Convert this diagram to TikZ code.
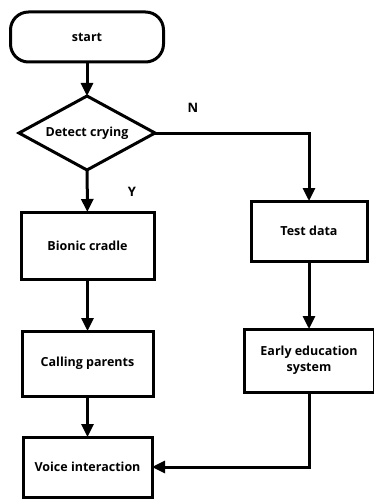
\documentclass[tikz,border=0pt]{standalone}
\usepackage{fontspec}
\setmainfont{Open Sans}
\usetikzlibrary{shapes.geometric,arrows.meta}

\begin{document}
\begin{tikzpicture}[
  x=1pt, y=-1pt,
  every node/.style={font=\fontsize{12.5}{16}\selectfont\bfseries},
  term/.style={
    draw, line width=3pt, rounded corners=18pt,
    inner sep=0pt, outer sep=0pt, minimum width=153pt, minimum height=50pt
  },
  decision/.style={
    draw, line width=3pt, diamond, aspect=1.84,
    inner sep=0pt, outer sep=0pt, minimum width=136pt, minimum height=74pt
  },
  box/.style={
    draw, line width=3pt, align=center,
    inner sep=0pt, outer sep=0pt
  },
  arr/.style={-{Triangle[length=13pt,width=12pt]}, line width=3pt},
  lbl/.style={font=\fontsize{13}{15}\selectfont\bfseries},
]
\useasboundingbox (0,0) rectangle (374,500);

%% Left column
\node[term] (start)    at (87,37)      {start};
\node[decision] (detect) at (87,133)   {Detect crying};
\node[box, minimum width=133pt, minimum height=67pt] (cradle)  at (87.5,245.5) {Bionic cradle};
\node[box, minimum width=131pt, minimum height=65pt] (calling) at (87.5,363.5) {Calling parents};
\node[box, minimum width=129pt, minimum height=60pt] (voice)   at (87.5,467)   {Voice interaction};

%% Right column
\node[box, minimum width=116pt, minimum height=60pt] (test)  at (309,231)   {Test data};
\node[box, minimum width=130pt, minimum height=63pt] (early) at (309,360.5) {Early education\\system};

%% Labels
\node[lbl] (yes) at (132,192) {Y};
\node[lbl] (no)  at (193,108) {N};

%% Arrows
\draw[arr] (start) -- (detect);
\draw[arr] (detect) -- (cradle);
\draw[arr] (detect.east) -| (test.north);
\draw[arr] (cradle) -- (calling);
\draw[arr] (calling) -- (voice);
\draw[arr] (test) -- (early);
\draw[arr] (early.south) |- (voice.east);

\end{tikzpicture}
\end{document}
